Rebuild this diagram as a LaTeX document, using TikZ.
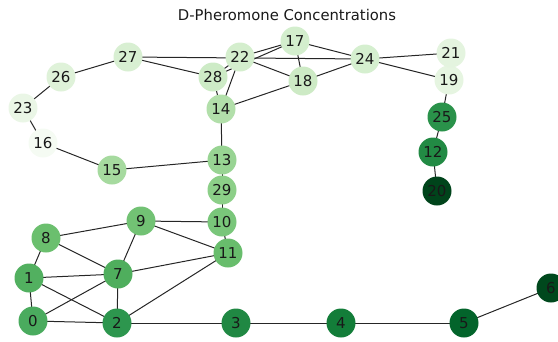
\documentclass[tikz,border=0pt]{standalone}
\usepackage{fontspec}
\setmainfont{DejaVu Sans}
\begin{document}
\begin{tikzpicture}[x=1pt,y=-1pt,
  nd/.style={circle,minimum size=29pt,inner sep=0pt,draw=none,font=\fontsize{15}{16}\selectfont,text=black!90},
  ed/.style={draw=black!85,line width=1pt}]
\useasboundingbox (0,0) rectangle (558,341);
\node[font=\fontsize{14.8}{16}\selectfont,text=black!90] (title) at (287,15) {D-Pheromone Concentrations};
\definecolor{c0}{HTML}{4AAB5E}\definecolor{c1}{HTML}{52B060}\definecolor{c2}{HTML}{2D964E}
\definecolor{c3}{HTML}{208843}\definecolor{c4}{HTML}{137D39}\definecolor{c5}{HTML}{03642B}
\definecolor{c6}{HTML}{00481D}\definecolor{c7}{HTML}{4FAE5D}\definecolor{c8}{HTML}{6BBF6E}
\definecolor{c9}{HTML}{72C274}\definecolor{c10}{HTML}{79C67A}\definecolor{c11}{HTML}{68BD6C}
\definecolor{c12}{HTML}{228A44}\definecolor{c13}{HTML}{98D493}\definecolor{c14}{HTML}{B2DFAA}
\definecolor{c15}{HTML}{A6DA9F}\definecolor{c16}{HTML}{F5FBF3}\definecolor{c17}{HTML}{D3EECD}
\definecolor{c18}{HTML}{CDEAC5}\definecolor{c19}{HTML}{E6F5E1}\definecolor{c20}{HTML}{00441B}
\definecolor{c21}{HTML}{E4F4DF}\definecolor{c22}{HTML}{D4EECD}\definecolor{c23}{HTML}{EAF6E6}
\definecolor{c24}{HTML}{D5EFCF}\definecolor{c25}{HTML}{2A924A}\definecolor{c26}{HTML}{DFF2D9}
\definecolor{c27}{HTML}{D8EFD2}\definecolor{c28}{HTML}{CDEBC6}\definecolor{c29}{HTML}{8CCF88}
\foreach \n/\x/\y in {0/33/321,1/29/278,2/117/323,3/236/323,4/341/323,5/464/323,6/551/288,
  7/118/274,8/46/238,9/141/221,10/222/222,11/228/253,12/433/152,13/222/160,14/221/109,
  15/112/170,16/43/143,17/295/41,18/303/81,19/449/80,20/437/191,21/451/53,22/240/57,
  23/23/108,24/365/59,25/442/117,26/61/77,27/128/57,28/213/77,29/222/190}
  \coordinate (p\n) at (\x,\y);
\foreach \a/\b in {27/26,26/23,23/16,16/15,15/13,13/14,14/28,14/22,14/18,27/24,27/28,28/22,28/17,
  22/17,22/18,17/18,17/24,18/24,24/21,24/19,19/25,25/12,12/20,13/29,29/10,10/11,10/9,9/11,9/8,
  9/7,8/7,8/1,1/7,1/0,1/2,0/7,0/2,7/2,7/11,2/11,2/3,3/4,4/5,5/6}
  \draw[ed] (p\a) -- (p\b);
\foreach \n in {0,...,29}
  \node[nd,fill=c\n] (n\n) at (p\n) {\n};
\end{tikzpicture}
\end{document}
